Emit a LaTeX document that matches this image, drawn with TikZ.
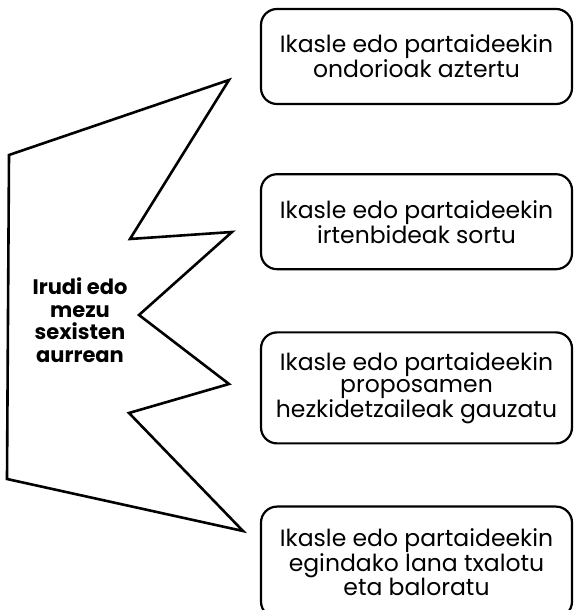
\documentclass[tikz,border=0pt]{standalone}
\usepackage{fontspec}
\setmainfont{Poppins}
\usetikzlibrary{positioning}
\tikzset{
    box/.style =    {rectangle,
                    rounded corners=16pt,
                    fill=white,
                    draw=black,
                    text=black,
                    line width=2.2pt,
                    align=center,
                    inner sep=0pt,
                    minimum width=311pt,
                    minimum height=95pt,
                    font=\fontsize{23.5}{22}\selectfont},
    tallbox/.style = {box,
                    minimum height=111pt},
    bolt/.style =   {draw=black,
                    line width=2.6pt,
                    line join=miter},
    title/.style =  {align=center,
                    text=black,
                    font=\bfseries\fontsize{21}{22.5}\selectfont},
    node distance=61pt}

\begin{document}
\begin{tikzpicture}[x=1pt,y=1pt]
        \useasboundingbox (0,0) rectangle (574,610);

        % zigzag shape on the left
        \draw[bolt] (9,455) -- (229,530) -- (130,371) -- (232,378) -- (139,295)
                    -- (229,226) -- (129,197) -- (243,79) -- (7,131) -- cycle;
        \node[title]    (T)  at (80,290)        {Irudi edo\\mezu\\sexisten\\aurrean};

        % the four boxes
        \node[box]      (B1) at (416.5,553.5)   {Ikasle edo partaideekin\\ondorioak aztertu};
        \node[box]      (B2) [below=68pt of B1] {Ikasle edo partaideekin\\irtenbideak sortu};
        \node[tallbox]  (B3) [below=of B2]      {Ikasle edo partaideekin\\proposamen\\hezkidetzaileak gauzatu};
        \node[tallbox]  (B4) [below=of B3]      {Ikasle edo partaideekin\\egindako lana txalotu\\eta baloratu};
\end{tikzpicture}
\end{document}
